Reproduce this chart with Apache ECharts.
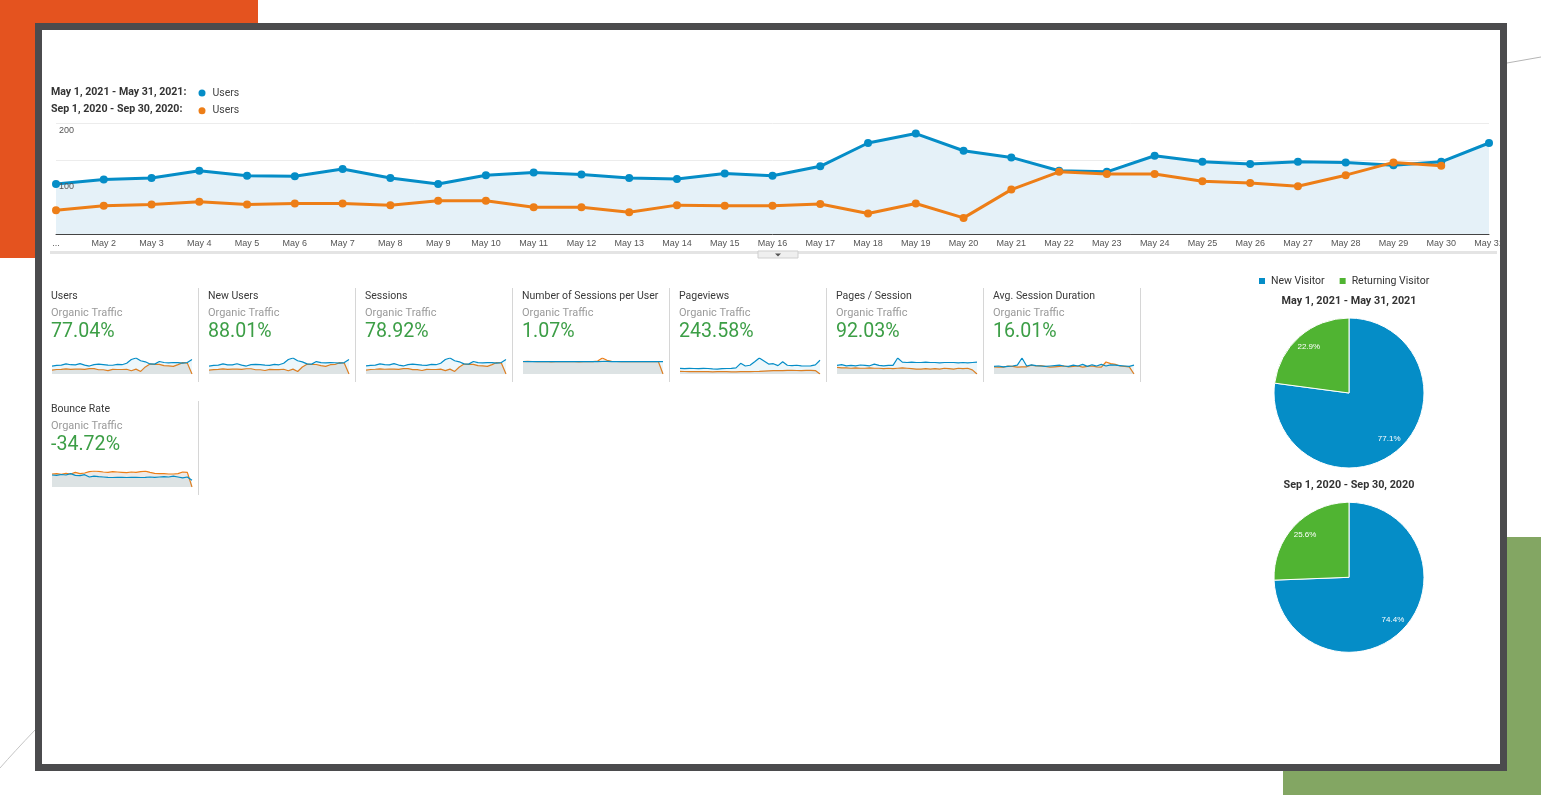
<!DOCTYPE html>
<html><head><meta charset="utf-8">
<script src="https://cdn.jsdelivr.net/npm/echarts@6/dist/echarts.min.js"></script>
<style>html,body{margin:0;padding:0;background:#fff;}#c{width:1541px;height:795px;}</style>
</head><body><div id="c"></div>
<script>
// ---------- data ----------
const days = ['May 1','May 2','May 3','May 4','May 5','May 6','May 7','May 8','May 9','May 10','May 11','May 12','May 13','May 14','May 15','May 16','May 17','May 18','May 19','May 20','May 21','May 22','May 23','May 24','May 25','May 26','May 27','May 28','May 29','May 30','May 31'];
const seriesNames = ['May 1, 2021 - May 31, 2021', 'Sep 1, 2020 - Sep 30, 2020'];
const metricName = 'Users';
const usersMay = [90, 98, 101, 114, 105, 104, 117, 101, 90, 106, 111, 107, 101, 99, 109, 105, 122, 164, 181, 150, 138, 114, 112, 141, 130, 126, 130, 129, 124, 130, 164];
const usersSep = [43, 51, 53, 58, 53, 55, 55, 52, 60, 60, 48, 48, 39, 52, 51, 51, 54, 37, 55, 29, 80, 112, 108, 108, 95, 92, 86, 106, 129, 123];
const yLabelTicks = [100, 200];

const cardTitles = ['Users', 'New Users', 'Sessions', 'Number of Sessions per User', 'Pageviews', 'Pages / Session', 'Avg. Session Duration', 'Bounce Rate'];
const cardSegment = 'Organic Traffic';
const cardChanges = ['77.04%', '88.01%', '78.92%', '1.07%', '243.58%', '92.03%', '16.01%', '-34.72%'];

const sparkUsersMay = usersMay;
const sparkUsersSep = [43, 51, 53, 58, 53, 55, 55, 52, 60, 60, 48, 48, 39, 52, 51, 51, 54, 37, 55, 29, 80, 112, 108, 108, 95, 92, 86, 106, 129, 123, 0];
const sparkNewUsersMay = [82, 88, 92, 104, 95, 94, 106, 91, 82, 96, 100, 96, 92, 89, 99, 95, 111, 150, 165, 137, 125, 104, 102, 128, 117, 114, 117, 116, 112, 118, 150];
const sparkNewUsersSep = [40, 46, 48, 53, 48, 50, 50, 47, 54, 54, 44, 44, 36, 47, 46, 46, 49, 34, 50, 26, 72, 101, 98, 98, 86, 78, 96, 98, 117, 111, 0];
const sparkSessionsMay = [97, 104, 108, 122, 112, 111, 125, 108, 97, 113, 118, 113, 108, 105, 116, 112, 130, 175, 193, 160, 147, 122, 119, 151, 138, 134, 138, 137, 132, 139, 175];
const sparkSessionsSep = [46, 54, 57, 62, 57, 59, 59, 55, 64, 64, 52, 52, 42, 55, 54, 54, 58, 40, 59, 31, 85, 120, 116, 116, 102, 99, 92, 113, 138, 132, 0];
const sparkSpuMay = [1.08, 1.07, 1.08, 1.07, 1.06, 1.07, 1.08, 1.07, 1.06, 1.07, 1.08, 1.07, 1.06, 1.07, 1.07, 1.08, 1.07, 1.08, 1.09, 1.07, 1.06, 1.07, 1.08, 1.07, 1.06, 1.07, 1.08, 1.07, 1.07, 1.06, 1.07];
const sparkSpuSep = [1.07, 1.09, 1.08, 1.06, 1.07, 1.08, 1.05, 1.07, 1.08, 1.06, 1.07, 1.07, 1.05, 1.07, 1.08, 1.06, 1.12, 1.38, 1.18, 1.10, 1.08, 1.07, 1.08, 1.07, 1.07, 1.06, 1.07, 1.08, 1.07, 1.08, 0];
const sparkPageviewsMay = [150, 140, 150, 145, 140, 150, 145, 135, 130, 140, 145, 150, 160, 280, 210, 230, 320, 420, 340, 260, 270, 220, 320, 230, 220, 230, 215, 210, 215, 240, 360];
const sparkPageviewsSep = [70, 66, 64, 62, 60, 62, 60, 58, 60, 62, 60, 58, 56, 60, 62, 64, 66, 70, 78, 84, 90, 92, 90, 94, 96, 92, 90, 94, 96, 90, 0];
const sparkPagesMay = [2.1, 2.3, 2.0, 2.1, 2.0, 2.2, 2.1, 2.0, 2.4, 2.1, 2.0, 2.1, 2.1, 3.9, 2.9, 2.8, 2.9, 2.8, 2.8, 2.9, 2.8, 2.8, 2.7, 2.8, 2.8, 2.8, 2.7, 2.8, 2.7, 2.8, 2.9];
const sparkPagesSep = [1.6, 1.5, 1.5, 1.4, 1.5, 1.4, 1.4, 1.5, 1.4, 1.4, 1.3, 1.4, 1.3, 1.4, 1.5, 1.4, 1.3, 1.2, 1.2, 1.3, 1.2, 1.3, 1.2, 1.4, 1.3, 1.2, 1.4, 1.3, 1.4, 1.0, 0];
const sparkDurationMay = [95, 100, 90, 95, 100, 110, 200, 100, 115, 105, 100, 95, 100, 105, 110, 100, 95, 110, 100, 120, 95, 115, 100, 120, 100, 115, 110, 105, 100, 95, 110];
const sparkDurationSep = [90, 85, 85, 100, 95, 85, 90, 90, 110, 100, 105, 95, 85, 90, 95, 100, 90, 95, 100, 85, 95, 100, 90, 85, 150, 130, 120, 100, 95, 90, 0];
const sparkBounceMay = [72, 70, 75, 72, 80, 70, 68, 74, 60, 65, 62, 60, 58, 57, 58, 58, 57, 58, 58, 57, 58, 60, 58, 60, 62, 60, 65, 60, 55, 60, 40];
const sparkBounceSep = [78, 80, 76, 82, 78, 88, 80, 84, 92, 96, 94, 90, 88, 92, 90, 88, 86, 90, 88, 92, 95, 88, 82, 80, 80, 78, 78, 80, 90, 88, 0];

const pieLabels = ['New Visitor', 'Returning Visitor'];
const pieMay = [77.1, 22.9];
const pieSep = [74.4, 25.6];

// ---------- style ----------
const BLUE = '#058dc7', ORANGE = '#ed7e17', GREEN_SLICE = '#50b432';
const UP = '#3c9e46';
const chart = echarts.init(document.getElementById('c'), null, {renderer: 'canvas'});

const sparkSets = [
  [sparkUsersMay, sparkUsersSep], [sparkNewUsersMay, sparkNewUsersSep], [sparkSessionsMay, sparkSessionsSep],
  [sparkSpuMay, sparkSpuSep], [sparkPageviewsMay, sparkPageviewsSep], [sparkPagesMay, sparkPagesSep],
  [sparkDurationMay, sparkDurationSep], [sparkBounceMay, sparkBounceSep]
];

const grids = [{left: 56, top: 123, width: 1433, height: 111}];
const xAxes = [{
  type: 'category', data: days, boundaryGap: false, gridIndex: 0,
  axisLine: {lineStyle: {color: '#444', width: 1}}, axisTick: {show: false},
  axisLabel: {interval: 0, fontSize: 9, color: '#555', margin: 5, fontFamily: 'Liberation Sans',
    formatter: (v, i) => i === 0 ? '...' : v}
}];
const yAxes = [
  {type: 'value', gridIndex: 0, min: 0, max: 200, interval: 200 / 3,
   axisLabel: {show: false}, axisLine: {show: false}, axisTick: {show: false},
   splitLine: {lineStyle: {color: '#ececec', width: 1}}},
  {type: 'value', gridIndex: 0, position: 'left', min: 0, max: yLabelTicks[1], interval: yLabelTicks[0], z: 10,
   axisLine: {show: false}, axisTick: {show: false}, splitLine: {show: false},
   axisLabel: {inside: true, showMinLabel: false, verticalAlign: 'top', fontSize: 9, color: '#555',
     margin: 3, fontFamily: 'Liberation Sans', padding: [3.5, 0, 0, 0]}}
];
const series = [
  {name: seriesNames[0], type: 'line', xAxisIndex: 0, yAxisIndex: 0, data: usersMay, symbol: 'circle', symbolSize: 8,
   lineStyle: {width: 3, color: BLUE}, itemStyle: {color: BLUE}, areaStyle: {color: '#e5f1f8', opacity: 1}, z: 3},
  {name: seriesNames[1], type: 'line', xAxisIndex: 0, yAxisIndex: 0, data: usersSep, symbol: 'circle', symbolSize: 8,
   lineStyle: {width: 3, color: ORANGE}, itemStyle: {color: ORANGE}, z: 4}
];

const graphics = [
  {type: 'rect', shape: {x: 0, y: 0, width: 258, height: 258}, style: {fill: '#e4531f'}, z: -20, silent: true},
  {type: 'rect', shape: {x: 1283, y: 537, width: 258, height: 258}, style: {fill: '#83a663'}, z: -20, silent: true},
  {type: 'rect', shape: {x: 41, y: 30, width: 1459, height: 734}, style: {fill: '#ffffff'}, z: -15, silent: true},
  {type: 'line', shape: {x1: 1507, y1: 63, x2: 1541, y2: 57}, style: {stroke: '#b5b5b5', lineWidth: 1}, z: -15, silent: true},
  {type: 'bezierCurve', shape: {x1: 0, y1: 768, x2: 35, y2: 730, cpx1: 14, cpy1: 752}, style: {stroke: '#c5c5c5', lineWidth: 1, fill: null}, z: -15, silent: true},
  // band under the axis + toggle tab
  {type: 'rect', shape: {x: 50, y: 251, width: 1447, height: 3}, style: {fill: '#e4e4e4'}, z: 1, silent: true},
  {type: 'rect', shape: {x: 758, y: 251, width: 40, height: 7}, style: {fill: '#efefef', stroke: '#cfcfcf', lineWidth: 1}, z: 1, silent: true},
  {type: 'polygon', shape: {points: [[775, 253.5], [781, 253.5], [778, 256.5]]}, style: {fill: '#555'}, z: 2, silent: true},
  // legend date labels
  {type: 'text', style: {text: seriesNames[0] + ':', x: 51, y: 92, font: 'bold 10.6px Roboto', fill: '#333', verticalAlign: 'middle'}, z: 5},
  {type: 'text', style: {text: seriesNames[1] + ':', x: 51, y: 109.6, font: 'bold 10.6px Roboto', fill: '#333', verticalAlign: 'middle'}, z: 5},
  // pie titles
  {type: 'text', style: {text: seriesNames[0], x: 1349, y: 301.2, font: 'bold 10.8px Roboto', fill: '#333', align: 'center', verticalAlign: 'middle'}, z: 5},
  {type: 'text', style: {text: seriesNames[1], x: 1349, y: 485.5, font: 'bold 10.8px Roboto', fill: '#333', align: 'center', verticalAlign: 'middle'}, z: 5}
];

cardTitles.forEach((t, i) => {
  const row = i < 7 ? 0 : 1;
  const col = i < 7 ? i : 0;
  const x = 51 + 157 * col;
  const dy = row * 113;
  graphics.push(
    {type: 'text', style: {text: t, x: x, y: 296.3 + dy, font: '10.5px Roboto', fill: '#3a3a3a', verticalAlign: 'middle'}, z: 5},
    {type: 'text', style: {text: cardSegment, x: x, y: 313.7 + dy, font: '11px Roboto', fill: '#9a9a9a', verticalAlign: 'middle'}, z: 5},
    {type: 'text', style: {text: cardChanges[i], x: x, y: 332 + dy, font: '19.6px Roboto', fill: UP, verticalAlign: 'middle'}, z: 5},
    {type: 'line', shape: {x1: x + 147.5, y1: 288 + dy, x2: x + 147.5, y2: 382 + dy}, style: {stroke: '#d6d6d6', lineWidth: 1}, z: 5, silent: true}
  );
  const gi = grids.length;
  grids.push({left: x + 1, top: 358 + dy, width: 140, height: 16});
  xAxes.push({type: 'category', gridIndex: gi, data: days, boundaryGap: false, show: false});
  const yi = yAxes.length;
  yAxes.push({type: 'value', gridIndex: gi, min: 0, max: 'dataMax', show: false, splitLine: {show: false}});
  series.push(
    {type: 'line', xAxisIndex: gi, yAxisIndex: yi, data: sparkSets[i][0], symbol: 'none', silent: true,
     lineStyle: {width: 1.2, color: BLUE}, areaStyle: {color: 'rgba(5,141,199,0.10)'}, z: 3},
    {type: 'line', xAxisIndex: gi, yAxisIndex: yi, data: sparkSets[i][1], symbol: 'none', silent: true,
     lineStyle: {width: 1.2, color: ORANGE}, areaStyle: {color: 'rgba(200,190,180,0.45)'}, z: 2}
  );
});

const pieColors = [BLUE, GREEN_SLICE];
function pieData(vals) { return vals.map((v, i) => ({name: pieLabels[i], value: v, itemStyle: {color: pieColors[i]}})); }
[[pieMay, 393], [pieSep, 577.3]].forEach(([vals, cy]) => {
  series.push({type: 'pie', center: [1349, cy], radius: [0, 75], startAngle: 90, clockwise: true, data: pieData(vals),
    label: {show: false}, labelLine: {show: false}, itemStyle: {borderColor: '#fff', borderWidth: 1}, emphasis: {disabled: true}, silent: true});
  series.push({type: 'pie', center: [1349, cy], radius: [41, 75], startAngle: 90, clockwise: true, silent: true,
    data: vals.map((v, i) => ({name: pieLabels[i], value: v, itemStyle: {color: 'rgba(0,0,0,0)'}})),
    label: {show: true, position: 'inside', color: '#fff', fontSize: 8, fontFamily: 'Liberation Sans', formatter: p => p.value.toFixed(1) + '%'},
    labelLine: {show: false}, emphasis: {disabled: true}});
});

// frame on top (clips the last axis label)
graphics.push({type: 'rect', shape: {x: 38.5, y: 26.5, width: 1465, height: 741}, style: {fill: null, stroke: '#4b4b4d', lineWidth: 7}, z: 100, silent: true});

chart.setOption({
  animation: false,
  backgroundColor: '#fff',
  grid: grids, xAxis: xAxes, yAxis: yAxes, series: series,
  legend: [
    {data: [seriesNames[0]], left: 198.5, top: 87.5, padding: 0, icon: 'circle', itemWidth: 7, itemHeight: 7, selectedMode: false,
     formatter: () => metricName, textStyle: {fontSize: 10.5, color: '#444', fontFamily: 'Roboto', padding: [0, 0, 0, 2]}},
    {data: [seriesNames[1]], left: 198.5, top: 105.3, padding: 0, icon: 'circle', itemWidth: 7, itemHeight: 7, selectedMode: false,
     formatter: () => metricName, textStyle: {fontSize: 10.5, color: '#444', fontFamily: 'Roboto', padding: [0, 0, 0, 2]}},
    {data: pieLabels, left: 1257, top: 275.5, padding: 0, icon: 'rect', itemWidth: 8, itemHeight: 8, itemGap: 13, selectedMode: false,
     textStyle: {fontSize: 10.5, color: '#333', fontFamily: 'Roboto'}}
  ],
  graphic: graphics
});
</script></body></html>
